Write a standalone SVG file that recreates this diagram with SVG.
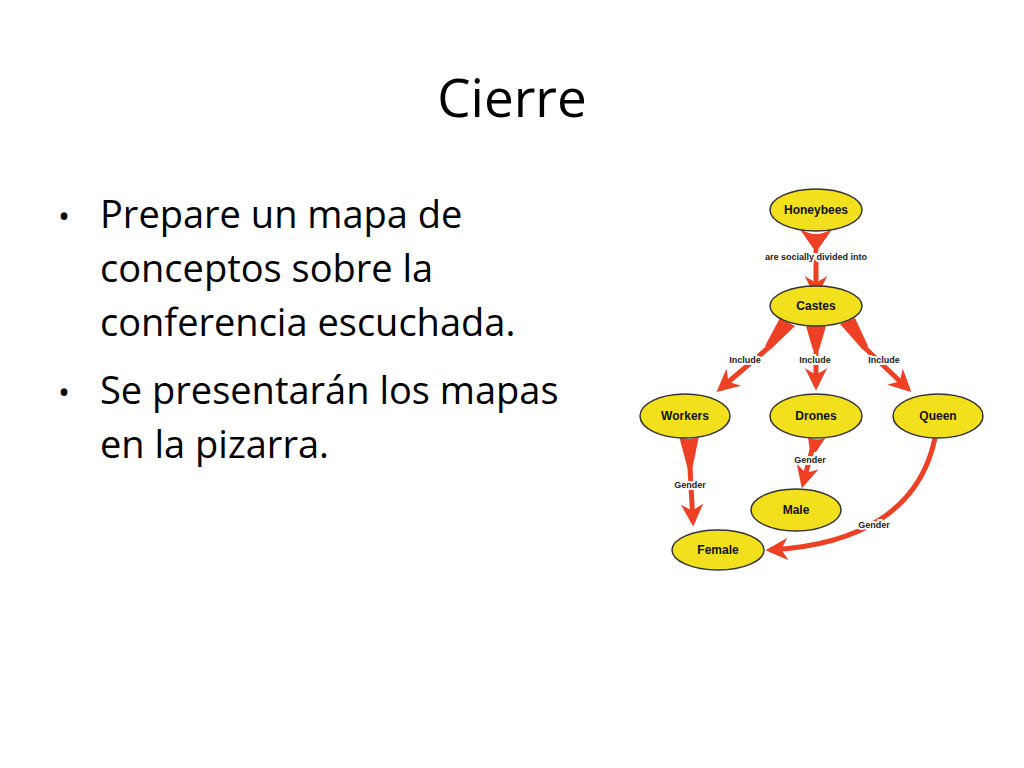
<svg xmlns="http://www.w3.org/2000/svg" width="1024" height="768" viewBox="0 0 1024 768">
<style>
.t{font-family:"Open Sans","Liberation Sans",sans-serif;fill:#000}
.n{fill:#f2e01c;stroke:#333;stroke-width:1.5}
.nl{font-family:"Liberation Sans",Arial,sans-serif;font-weight:bold;font-size:12px;fill:#111;text-anchor:middle}
.el{font-family:"Liberation Sans",Arial,sans-serif;font-weight:bold;font-size:9px;fill:#222;text-anchor:middle;stroke:#fff;stroke-width:4;paint-order:stroke}
.c{fill:none;stroke:#ee4025;stroke-width:5}
.w{fill:#ee4025}
</style>
<defs>
<marker id="a" viewBox="0 0 10 10" refX="8" refY="5" markerWidth="4.5" markerHeight="4.5" orient="auto"><path d="M0,0 L10,5 L0,10 L3,5 Z" fill="#ee4025"/></marker>
</defs>
<rect width="1024" height="768" fill="#fff"/>
<text class="t" x="512" y="117" font-size="53" text-anchor="middle">Cierre</text>
<g class="t" font-size="38">
<text x="58" y="228" font-size="32">•</text>
<text x="100" y="228">Prepare un mapa de</text>
<text x="100" y="282">conceptos sobre la</text>
<text x="100" y="336">conferencia escuchada.</text>
<text x="58" y="404" font-size="32">•</text>
<text x="100" y="404">Se presentarán los mapas</text>
<text x="100" y="458">en la pizarra.</text>
</g>
<g id="connectors">
<path class="w" d="M799,228 Q816,240 833,228 L819,248 L813,248 Z"/>
<path class="c" d="M816,246 L816,294" marker-end="url(#a)"/>
<path class="w" d="M780,318 L795,326 L770,350 L765,346 Z"/>
<path class="c" d="M768,348 L720,389" marker-end="url(#a)"/>
<path class="w" d="M806,326 L826,326 L819,350 L813,350 Z"/>
<path class="c" d="M816,348 L816,386" marker-end="url(#a)"/>
<path class="w" d="M840,324 L855,318 L868,346 L863,350 Z"/>
<path class="c" d="M865,348 L908,389" marker-end="url(#a)"/>
<path class="w" d="M679,436 Q688,442 699,436 L692,470 L688,470 Z"/>
<path class="c" d="M690,468 L693,522" marker-end="url(#a)"/>
<path class="w" d="M808,437 Q818,442 826,437 L816,452 L810,452 Z"/>
<path class="c" d="M812,450 L803,484" marker-end="url(#a)"/>
<path class="c" d="M935,438 C920,510 860,545 770,550" marker-end="url(#a)"/>
<g>
<text class="el" x="816" y="260">are socially divided into</text>
<text class="el" x="745" y="363">Include</text>
<text class="el" x="815" y="363">Include</text>
<text class="el" x="884" y="363">Include</text>
<text class="el" x="810" y="463">Gender</text>
<text class="el" x="690" y="488">Gender</text>
<text class="el" x="874" y="528">Gender</text>
</g>
</g>
<g id="honeybees"><ellipse class="n" cx="816" cy="210" rx="46" ry="21"/><text class="nl" x="816" y="214">Honeybees</text></g>
<g id="castes"><ellipse class="n" cx="816" cy="306" rx="46" ry="20"/><text class="nl" x="816" y="310">Castes</text></g>
<g id="workers"><ellipse class="n" cx="685" cy="416" rx="45" ry="22"/><text class="nl" x="685" y="420">Workers</text></g>
<g id="drones"><ellipse class="n" cx="816" cy="416" rx="46" ry="22"/><text class="nl" x="816" y="420">Drones</text></g>
<g id="queen"><ellipse class="n" cx="938" cy="416" rx="45" ry="22"/><text class="nl" x="938" y="420">Queen</text></g>
<g id="male"><ellipse class="n" cx="796" cy="510" rx="45" ry="21"/><text class="nl" x="796" y="514">Male</text></g>
<g id="female"><ellipse class="n" cx="718" cy="550" rx="46" ry="20"/><text class="nl" x="718" y="554">Female</text></g>
</svg>
